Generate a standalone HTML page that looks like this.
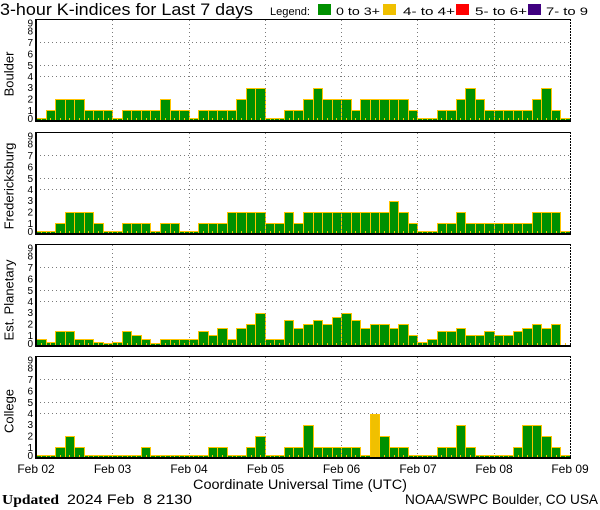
<!DOCTYPE html>
<html><head><meta charset="utf-8"><style>
html,body{margin:0;padding:0;background:#fff;width:600px;height:510px;overflow:hidden}
svg{display:block}
text{font-family:"Liberation Sans",sans-serif;fill:#000}
.b rect{fill:#009000;stroke:#ffc400;stroke-width:1}
.yl{font-size:10px;text-anchor:end}
.xl{font-size:12px;text-anchor:middle}
.pl{font-size:13px;text-anchor:middle}
</style></head><body>
<svg width="600" height="510" viewBox="0 0 600 510" xmlns="http://www.w3.org/2000/svg" xmlns:xlink="http://www.w3.org/1999/xlink">
<defs>
<g id="fr">
<path d="M36 -77.5H570M36 -54.5H570M36 -43.5H570M112.5 -100V0M189.5 -100V0M265.5 -100V0M341.5 -100V0M417.5 -100V0M494.5 -100V0" stroke="#7a7a7a" stroke-dasharray="1 3" fill="none"/>
<path d="M41.5 -2v2M50.5 -2v2M60.5 -2v2M69.5 -2v2M79.5 -2v2M88.5 -2v2M98.5 -2v2M108.5 -2v2M117.5 -2v2M127.5 -2v2M136.5 -2v2M146.5 -2v2M155.5 -2v2M165.5 -2v2M174.5 -2v2M184.5 -2v2M193.5 -2v2M203.5 -2v2M212.5 -2v2M222.5 -2v2M232.5 -2v2M241.5 -2v2M251.5 -2v2M260.5 -2v2M270.5 -2v2M279.5 -2v2M289.5 -2v2M298.5 -2v2M308.5 -2v2M317.5 -2v2M327.5 -2v2M336.5 -2v2M346.5 -2v2M355.5 -2v2M365.5 -2v2M375.5 -2v2M384.5 -2v2M394.5 -2v2M403.5 -2v2M413.5 -2v2M422.5 -2v2M432.5 -2v2M441.5 -2v2M451.5 -2v2M460.5 -2v2M470.5 -2v2M479.5 -2v2M489.5 -2v2M499.5 -2v2M508.5 -2v2M518.5 -2v2M527.5 -2v2M537.5 -2v2M546.5 -2v2M556.5 -2v2M565.5 -2v2" stroke="#ffc400" fill="none"/>
<rect x="35" y="-101" width="536" height="1" fill="#000"/>
<rect x="35" y="-101" width="2" height="103" fill="#000"/>
<rect x="35" y="0" width="536" height="2" fill="#000"/>
<path d="M570.5 -101V0" stroke="#000" stroke-dasharray="2 1" fill="none"/>
</g>
</defs>

<!-- Title & legend -->
<text x="0" y="15" font-size="16.5" textLength="253" lengthAdjust="spacingAndGlyphs">3-hour K-indices for Last 7 days</text>
<text x="270" y="15" font-size="11" textLength="40" lengthAdjust="spacingAndGlyphs">Legend:</text>
<rect x="318" y="4" width="13" height="11" fill="#009000"/>
<text x="336" y="15" font-size="11" textLength="44" lengthAdjust="spacingAndGlyphs">0 to 3+</text>
<rect x="383" y="4" width="13" height="11" fill="#f0c000"/>
<text x="403" y="15" font-size="11" textLength="52" lengthAdjust="spacingAndGlyphs">4- to 4+</text>
<rect x="456" y="4" width="13" height="11" fill="#ff0000"/>
<text x="475" y="15" font-size="11" textLength="52" lengthAdjust="spacingAndGlyphs">5- to 6+</text>
<rect x="528" y="4" width="13" height="11" fill="#400080"/>
<text x="546" y="15" font-size="11" textLength="42" lengthAdjust="spacingAndGlyphs">7- to 9</text>

<!-- Panel 1: Boulder -->
<g transform="translate(0,120)">
<g class="b">
<rect x="36.5" y="-1.5" width="10" height="2"/>
<rect x="46.5" y="-9.5" width="9" height="10"/>
<rect x="55.5" y="-20.5" width="10" height="21"/>
<rect x="65.5" y="-20.5" width="9" height="21"/>
<rect x="74.5" y="-20.5" width="10" height="21"/>
<rect x="84.5" y="-9.5" width="9" height="10"/>
<rect x="93.5" y="-9.5" width="10" height="10"/>
<rect x="103.5" y="-9.5" width="9" height="10"/>
<rect x="112.5" y="-1.5" width="10" height="2"/>
<rect x="122.5" y="-9.5" width="9" height="10"/>
<rect x="131.5" y="-9.5" width="10" height="10"/>
<rect x="141.5" y="-9.5" width="9" height="10"/>
<rect x="150.5" y="-9.5" width="10" height="10"/>
<rect x="160.5" y="-20.5" width="10" height="21"/>
<rect x="170.5" y="-9.5" width="9" height="10"/>
<rect x="179.5" y="-9.5" width="10" height="10"/>
<rect x="189.5" y="-1.5" width="9" height="2"/>
<rect x="198.5" y="-9.5" width="10" height="10"/>
<rect x="208.5" y="-9.5" width="9" height="10"/>
<rect x="217.5" y="-9.5" width="10" height="10"/>
<rect x="227.5" y="-9.5" width="9" height="10"/>
<rect x="236.5" y="-20.5" width="10" height="21"/>
<rect x="246.5" y="-31.5" width="9" height="32"/>
<rect x="255.5" y="-31.5" width="10" height="32"/>
<rect x="265.5" y="-1.5" width="9" height="2"/>
<rect x="274.5" y="-1.5" width="10" height="2"/>
<rect x="284.5" y="-9.5" width="9" height="10"/>
<rect x="293.5" y="-9.5" width="10" height="10"/>
<rect x="303.5" y="-20.5" width="10" height="21"/>
<rect x="313.5" y="-31.5" width="9" height="32"/>
<rect x="322.5" y="-20.5" width="10" height="21"/>
<rect x="332.5" y="-20.5" width="9" height="21"/>
<rect x="341.5" y="-20.5" width="10" height="21"/>
<rect x="351.5" y="-9.5" width="9" height="10"/>
<rect x="360.5" y="-20.5" width="10" height="21"/>
<rect x="370.5" y="-20.5" width="9" height="21"/>
<rect x="379.5" y="-20.5" width="10" height="21"/>
<rect x="389.5" y="-20.5" width="9" height="21"/>
<rect x="398.5" y="-20.5" width="10" height="21"/>
<rect x="408.5" y="-9.5" width="9" height="10"/>
<rect x="417.5" y="-1.5" width="10" height="2"/>
<rect x="427.5" y="-1.5" width="10" height="2"/>
<rect x="437.5" y="-9.5" width="9" height="10"/>
<rect x="446.5" y="-9.5" width="10" height="10"/>
<rect x="456.5" y="-20.5" width="9" height="21"/>
<rect x="465.5" y="-31.5" width="10" height="32"/>
<rect x="475.5" y="-20.5" width="9" height="21"/>
<rect x="484.5" y="-9.5" width="10" height="10"/>
<rect x="494.5" y="-9.5" width="9" height="10"/>
<rect x="503.5" y="-9.5" width="10" height="10"/>
<rect x="513.5" y="-9.5" width="9" height="10"/>
<rect x="522.5" y="-9.5" width="10" height="10"/>
<rect x="532.5" y="-20.5" width="9" height="21"/>
<rect x="541.5" y="-31.5" width="10" height="32"/>
<rect x="551.5" y="-9.5" width="9" height="10"/>
<rect x="560.5" y="-1.5" width="10" height="2"/>
</g>
<use xlink:href="#fr" href="#fr"/>
<text class="yl" x="33" y="2">0</text><text class="yl" x="33" y="-6">1</text><text class="yl" x="33" y="-17.5">2</text><text class="yl" x="33" y="-29">3</text><text class="yl" x="33" y="-40">4</text><text class="yl" x="33" y="-51">5</text><text class="yl" x="33" y="-62.5">6</text><text class="yl" x="33" y="-74">7</text><text class="yl" x="33" y="-85.5">8</text><text class="yl" x="33" y="-93.5">9</text>
<text class="pl" transform="translate(13.5,-46) rotate(-90)">Boulder</text>
</g>

<!-- Panel 2: Fredericksburg -->
<g transform="translate(0,233)">
<g class="b">
<rect x="36.5" y="-1.5" width="10" height="2"/>
<rect x="46.5" y="-1.5" width="9" height="2"/>
<rect x="55.5" y="-9.5" width="10" height="10"/>
<rect x="65.5" y="-20.5" width="9" height="21"/>
<rect x="74.5" y="-20.5" width="10" height="21"/>
<rect x="84.5" y="-20.5" width="9" height="21"/>
<rect x="93.5" y="-9.5" width="10" height="10"/>
<rect x="103.5" y="-1.5" width="9" height="2"/>
<rect x="112.5" y="-1.5" width="10" height="2"/>
<rect x="122.5" y="-9.5" width="9" height="10"/>
<rect x="131.5" y="-9.5" width="10" height="10"/>
<rect x="141.5" y="-9.5" width="9" height="10"/>
<rect x="150.5" y="-1.5" width="10" height="2"/>
<rect x="160.5" y="-9.5" width="10" height="10"/>
<rect x="170.5" y="-9.5" width="9" height="10"/>
<rect x="179.5" y="-1.5" width="10" height="2"/>
<rect x="189.5" y="-1.5" width="9" height="2"/>
<rect x="198.5" y="-9.5" width="10" height="10"/>
<rect x="208.5" y="-9.5" width="9" height="10"/>
<rect x="217.5" y="-9.5" width="10" height="10"/>
<rect x="227.5" y="-20.5" width="9" height="21"/>
<rect x="236.5" y="-20.5" width="10" height="21"/>
<rect x="246.5" y="-20.5" width="9" height="21"/>
<rect x="255.5" y="-20.5" width="10" height="21"/>
<rect x="265.5" y="-9.5" width="9" height="10"/>
<rect x="274.5" y="-9.5" width="10" height="10"/>
<rect x="284.5" y="-20.5" width="9" height="21"/>
<rect x="293.5" y="-9.5" width="10" height="10"/>
<rect x="303.5" y="-20.5" width="10" height="21"/>
<rect x="313.5" y="-20.5" width="9" height="21"/>
<rect x="322.5" y="-20.5" width="10" height="21"/>
<rect x="332.5" y="-20.5" width="9" height="21"/>
<rect x="341.5" y="-20.5" width="10" height="21"/>
<rect x="351.5" y="-20.5" width="9" height="21"/>
<rect x="360.5" y="-20.5" width="10" height="21"/>
<rect x="370.5" y="-20.5" width="9" height="21"/>
<rect x="379.5" y="-20.5" width="10" height="21"/>
<rect x="389.5" y="-31.5" width="9" height="32"/>
<rect x="398.5" y="-20.5" width="10" height="21"/>
<rect x="408.5" y="-9.5" width="9" height="10"/>
<rect x="417.5" y="-1.5" width="10" height="2"/>
<rect x="427.5" y="-1.5" width="10" height="2"/>
<rect x="437.5" y="-9.5" width="9" height="10"/>
<rect x="446.5" y="-9.5" width="10" height="10"/>
<rect x="456.5" y="-20.5" width="9" height="21"/>
<rect x="465.5" y="-9.5" width="10" height="10"/>
<rect x="475.5" y="-9.5" width="9" height="10"/>
<rect x="484.5" y="-9.5" width="10" height="10"/>
<rect x="494.5" y="-9.5" width="9" height="10"/>
<rect x="503.5" y="-9.5" width="10" height="10"/>
<rect x="513.5" y="-9.5" width="9" height="10"/>
<rect x="522.5" y="-9.5" width="10" height="10"/>
<rect x="532.5" y="-20.5" width="9" height="21"/>
<rect x="541.5" y="-20.5" width="10" height="21"/>
<rect x="551.5" y="-20.5" width="9" height="21"/>
<rect x="560.5" y="-1.5" width="10" height="2"/>
</g>
<use xlink:href="#fr" href="#fr"/>
<text class="yl" x="33" y="2">0</text><text class="yl" x="33" y="-6">1</text><text class="yl" x="33" y="-17.5">2</text><text class="yl" x="33" y="-29">3</text><text class="yl" x="33" y="-40">4</text><text class="yl" x="33" y="-51">5</text><text class="yl" x="33" y="-62.5">6</text><text class="yl" x="33" y="-74">7</text><text class="yl" x="33" y="-85.5">8</text><text class="yl" x="33" y="-93.5">9</text>
<text class="pl" transform="translate(13.5,-47) rotate(-90)">Fredericksburg</text>
</g>

<!-- Panel 3: Est. Planetary -->
<g transform="translate(0,345)">
<g class="b">
<rect x="36.5" y="-5.5" width="10" height="6"/>
<rect x="46.5" y="-2.5" width="9" height="3"/>
<rect x="55.5" y="-13.5" width="10" height="14"/>
<rect x="65.5" y="-13.5" width="9" height="14"/>
<rect x="74.5" y="-5.5" width="10" height="6"/>
<rect x="84.5" y="-5.5" width="9" height="6"/>
<rect x="93.5" y="-2.5" width="10" height="3"/>
<rect x="103.5" y="-1.5" width="9" height="2"/>
<rect x="112.5" y="-2.5" width="10" height="3"/>
<rect x="122.5" y="-13.5" width="9" height="14"/>
<rect x="131.5" y="-9.5" width="10" height="10"/>
<rect x="141.5" y="-5.5" width="9" height="6"/>
<rect x="150.5" y="-1.5" width="10" height="2"/>
<rect x="160.5" y="-5.5" width="10" height="6"/>
<rect x="170.5" y="-5.5" width="9" height="6"/>
<rect x="179.5" y="-5.5" width="10" height="6"/>
<rect x="189.5" y="-5.5" width="9" height="6"/>
<rect x="198.5" y="-13.5" width="10" height="14"/>
<rect x="208.5" y="-9.5" width="9" height="10"/>
<rect x="217.5" y="-16.5" width="10" height="17"/>
<rect x="227.5" y="-5.5" width="9" height="6"/>
<rect x="236.5" y="-16.5" width="10" height="17"/>
<rect x="246.5" y="-20.5" width="9" height="21"/>
<rect x="255.5" y="-31.5" width="10" height="32"/>
<rect x="265.5" y="-5.5" width="9" height="6"/>
<rect x="274.5" y="-5.5" width="10" height="6"/>
<rect x="284.5" y="-24.5" width="9" height="25"/>
<rect x="293.5" y="-16.5" width="10" height="17"/>
<rect x="303.5" y="-20.5" width="10" height="21"/>
<rect x="313.5" y="-24.5" width="9" height="25"/>
<rect x="322.5" y="-20.5" width="10" height="21"/>
<rect x="332.5" y="-27.5" width="9" height="28"/>
<rect x="341.5" y="-31.5" width="10" height="32"/>
<rect x="351.5" y="-24.5" width="9" height="25"/>
<rect x="360.5" y="-16.5" width="10" height="17"/>
<rect x="370.5" y="-20.5" width="9" height="21"/>
<rect x="379.5" y="-20.5" width="10" height="21"/>
<rect x="389.5" y="-16.5" width="9" height="17"/>
<rect x="398.5" y="-20.5" width="10" height="21"/>
<rect x="408.5" y="-9.5" width="9" height="10"/>
<rect x="417.5" y="-2.5" width="10" height="3"/>
<rect x="427.5" y="-5.5" width="10" height="6"/>
<rect x="437.5" y="-13.5" width="9" height="14"/>
<rect x="446.5" y="-13.5" width="10" height="14"/>
<rect x="456.5" y="-16.5" width="9" height="17"/>
<rect x="465.5" y="-9.5" width="10" height="10"/>
<rect x="475.5" y="-9.5" width="9" height="10"/>
<rect x="484.5" y="-13.5" width="10" height="14"/>
<rect x="494.5" y="-9.5" width="9" height="10"/>
<rect x="503.5" y="-9.5" width="10" height="10"/>
<rect x="513.5" y="-13.5" width="9" height="14"/>
<rect x="522.5" y="-16.5" width="10" height="17"/>
<rect x="532.5" y="-20.5" width="9" height="21"/>
<rect x="541.5" y="-16.5" width="10" height="17"/>
<rect x="551.5" y="-20.5" width="9" height="21"/>
</g>
<use xlink:href="#fr" href="#fr"/>
<text class="yl" x="33" y="2">0</text><text class="yl" x="33" y="-6">1</text><text class="yl" x="33" y="-17.5">2</text><text class="yl" x="33" y="-29">3</text><text class="yl" x="33" y="-40">4</text><text class="yl" x="33" y="-51">5</text><text class="yl" x="33" y="-62.5">6</text><text class="yl" x="33" y="-74">7</text><text class="yl" x="33" y="-85.5">8</text><text class="yl" x="33" y="-93.5">9</text>
<text class="pl" transform="translate(13.5,-45) rotate(-90)">Est. Planetary</text>
</g>

<!-- Panel 4: College -->
<g transform="translate(0,457)">
<g class="b">
<rect x="36.5" y="-1.5" width="10" height="2"/>
<rect x="46.5" y="-1.5" width="9" height="2"/>
<rect x="55.5" y="-9.5" width="10" height="10"/>
<rect x="65.5" y="-20.5" width="9" height="21"/>
<rect x="74.5" y="-9.5" width="10" height="10"/>
<rect x="84.5" y="-1.5" width="9" height="2"/>
<rect x="93.5" y="-1.5" width="10" height="2"/>
<rect x="103.5" y="-1.5" width="9" height="2"/>
<rect x="112.5" y="-1.5" width="10" height="2"/>
<rect x="122.5" y="-1.5" width="9" height="2"/>
<rect x="131.5" y="-1.5" width="10" height="2"/>
<rect x="141.5" y="-9.5" width="9" height="10"/>
<rect x="150.5" y="-1.5" width="10" height="2"/>
<rect x="160.5" y="-1.5" width="10" height="2"/>
<rect x="170.5" y="-1.5" width="9" height="2"/>
<rect x="179.5" y="-1.5" width="10" height="2"/>
<rect x="189.5" y="-1.5" width="9" height="2"/>
<rect x="198.5" y="-1.5" width="10" height="2"/>
<rect x="208.5" y="-9.5" width="9" height="10"/>
<rect x="217.5" y="-9.5" width="10" height="10"/>
<rect x="227.5" y="-1.5" width="9" height="2"/>
<rect x="236.5" y="-1.5" width="10" height="2"/>
<rect x="246.5" y="-9.5" width="9" height="10"/>
<rect x="255.5" y="-20.5" width="10" height="21"/>
<rect x="265.5" y="-1.5" width="9" height="2"/>
<rect x="274.5" y="-1.5" width="10" height="2"/>
<rect x="284.5" y="-9.5" width="9" height="10"/>
<rect x="293.5" y="-9.5" width="10" height="10"/>
<rect x="303.5" y="-31.5" width="10" height="32"/>
<rect x="313.5" y="-9.5" width="9" height="10"/>
<rect x="322.5" y="-9.5" width="10" height="10"/>
<rect x="332.5" y="-9.5" width="9" height="10"/>
<rect x="341.5" y="-9.5" width="10" height="10"/>
<rect x="351.5" y="-9.5" width="9" height="10"/>
<rect x="360.5" y="-1.5" width="10" height="2"/>
<rect x="370.5" y="-42.5" width="9" height="43" style="fill:#f0c000"/>
<rect x="379.5" y="-20.5" width="10" height="21"/>
<rect x="389.5" y="-9.5" width="9" height="10"/>
<rect x="398.5" y="-9.5" width="10" height="10"/>
<rect x="408.5" y="-1.5" width="9" height="2"/>
<rect x="417.5" y="-1.5" width="10" height="2"/>
<rect x="427.5" y="-1.5" width="10" height="2"/>
<rect x="437.5" y="-9.5" width="9" height="10"/>
<rect x="446.5" y="-9.5" width="10" height="10"/>
<rect x="456.5" y="-31.5" width="9" height="32"/>
<rect x="465.5" y="-9.5" width="10" height="10"/>
<rect x="475.5" y="-1.5" width="9" height="2"/>
<rect x="484.5" y="-1.5" width="10" height="2"/>
<rect x="494.5" y="-1.5" width="9" height="2"/>
<rect x="503.5" y="-1.5" width="10" height="2"/>
<rect x="513.5" y="-9.5" width="9" height="10"/>
<rect x="522.5" y="-31.5" width="10" height="32"/>
<rect x="532.5" y="-31.5" width="9" height="32"/>
<rect x="541.5" y="-20.5" width="10" height="21"/>
<rect x="551.5" y="-9.5" width="9" height="10"/>
<rect x="560.5" y="-1.5" width="10" height="2"/>
</g>
<use xlink:href="#fr" href="#fr"/>
<text class="yl" x="33" y="2">0</text><text class="yl" x="33" y="-6">1</text><text class="yl" x="33" y="-17.5">2</text><text class="yl" x="33" y="-29">3</text><text class="yl" x="33" y="-40">4</text><text class="yl" x="33" y="-51">5</text><text class="yl" x="33" y="-62.5">6</text><text class="yl" x="33" y="-74">7</text><text class="yl" x="33" y="-85.5">8</text><text class="yl" x="33" y="-93.5">9</text>
<text class="pl" transform="translate(13.5,-46) rotate(-90)">College</text>
</g>

<!-- X axis labels -->
<text class="xl" x="36" y="473">Feb 02</text>
<text class="xl" x="112.5" y="473">Feb 03</text>
<text class="xl" x="189" y="473">Feb 04</text>
<text class="xl" x="265.5" y="473">Feb 05</text>
<text class="xl" x="341.5" y="473">Feb 06</text>
<text class="xl" x="418" y="473">Feb 07</text>
<text class="xl" x="494" y="473">Feb 08</text>
<text class="xl" x="570" y="473">Feb 09</text>
<text x="193" y="489" font-size="13.5" textLength="214" lengthAdjust="spacingAndGlyphs">Coordinate Universal Time (UTC)</text>
<text x="2" y="504" font-size="14" font-weight="bold" style="font-family:'Liberation Serif',serif" textLength="57" lengthAdjust="spacingAndGlyphs">Updated</text>
<text x="67" y="504" font-size="14" style="white-space:pre" textLength="125" lengthAdjust="spacingAndGlyphs">2024 Feb  8 2130</text>
<text x="405" y="504" font-size="14" textLength="193" lengthAdjust="spacingAndGlyphs">NOAA/SWPC Boulder, CO USA</text>
</svg>
</body></html>
